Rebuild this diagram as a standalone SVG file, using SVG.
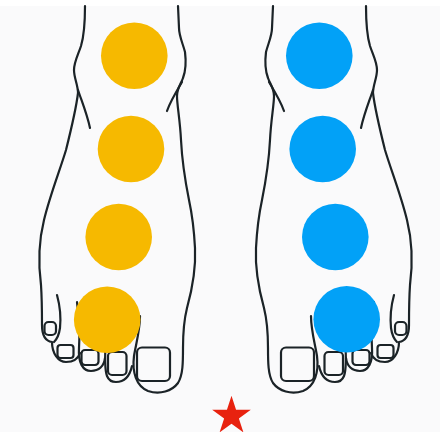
<svg xmlns="http://www.w3.org/2000/svg" xmlns:xlink="http://www.w3.org/1999/xlink" width="440" height="432" viewBox="0 0 440 432">
  <style>
    .ln { fill: none; stroke: #1b2327; stroke-width: 2.2; stroke-linecap: round; stroke-linejoin: round; }
    .warm { fill: #F6B900; }
    .cool { fill: #02A1F7; }
    .star { fill: #E8220F; }
  </style>
  <defs>
    <!-- Line drawing of a right-pointing (left) foot; mirrored for the other foot -->
    <g id="foot-lines">
      <!-- outer side: leg, ankle, sole edge, little toe and fourth toe -->
      <path class="ln" d="M85,6 C85,22 84,36 81,46 C78,55 74,62 74,70 C74,78 78,85 78,93 C76,110 71,130 66,150 C60,170 50,195 44,220 C39,240 38,262 41,285 C42,300 42,315 42,325 C42,335 45,341 52,342 C52,353 58,362 66,362 C73,362 78,359 80,353"/>
      <!-- ankle bone -->
      <path class="ln" d="M78,90 C82,102 87,114 90,128"/>
      <!-- little toe inner edge -->
      <path class="ln" d="M57,295 C60,306 61,318 60,328 C59,335 57,339 54,342"/>
      <!-- third toe -->
      <path class="ln" d="M77,302 C79,318 80,334 79,348 C78,363 83,371 91,371 C99,371 104,366 105,358"/>
      <!-- second toe -->
      <path class="ln" d="M106,338 C105,352 104,368 107,376 C109,381 112,382 116,382 C125,382 130,375 132,366"/>
      <!-- big toe and inner side up to the leg -->
      <path class="ln" d="M140,316 C140,330 136,344 134,356 C132,372 136,386 148,391 C160,395 172,391 178,383 C183,375 183,362 183,348 C183,332 184,320 187,308 C192,290 196,268 195,248 C194,228 192,214 189,200 C185,180 182,160 181,140 C180,120 177,105 177,96 C177,88 181,84 183,78 C186,70 186,60 185,52 C183,44 179,36 179,28 L178,6"/>
      <!-- inner ankle -->
      <path class="ln" d="M182,82 C176,92 170,102 167,111"/>
      <!-- toenails -->
      <rect class="ln" x="44.5" y="322" width="11.5" height="13" rx="4"/>
      <rect class="ln" x="57.5" y="345" width="16" height="13" rx="3"/>
      <rect class="ln" x="81.5" y="350" width="17" height="15" rx="3.5"/>
      <rect class="ln" x="108" y="352" width="18.5" height="23" rx="4"/>
      <rect class="ln" x="137" y="347.5" width="33" height="33.5" rx="5"/>
    </g>
  </defs>

  <rect width="440" height="432" fill="#FAFAFB"/>
  <rect width="440" height="6" fill="#FFFFFF"/>

  <g id="left-foot">
    <use xlink:href="#foot-lines"/>
  </g>
  <g id="right-foot">
    <use xlink:href="#foot-lines" transform="matrix(-1 0 0 1 451 0)"/>
  </g>

  <g id="left-points">
    <circle class="warm" cx="134.3" cy="55.7" r="33.3"/>
    <circle class="warm" cx="131" cy="149" r="33.3"/>
    <circle class="warm" cx="118.7" cy="237" r="33.3"/>
    <circle class="warm" cx="107.2" cy="319.7" r="33.3"/>
  </g>
  <g id="right-points">
    <circle class="cool" cx="319.3" cy="55.7" r="33.3"/>
    <circle class="cool" cx="322.7" cy="149" r="33.3"/>
    <circle class="cool" cx="335.3" cy="237" r="33.3"/>
    <circle class="cool" cx="346.7" cy="319.3" r="33.3"/>
  </g>

  <g id="star">
    <polygon class="star" points="231.5,395.7 236.06,409.73 250.81,409.73 238.87,418.39 243.43,432.42 231.5,423.75 219.57,432.42 224.13,418.39 212.19,409.73 226.94,409.73"/>
  </g>
</svg>
